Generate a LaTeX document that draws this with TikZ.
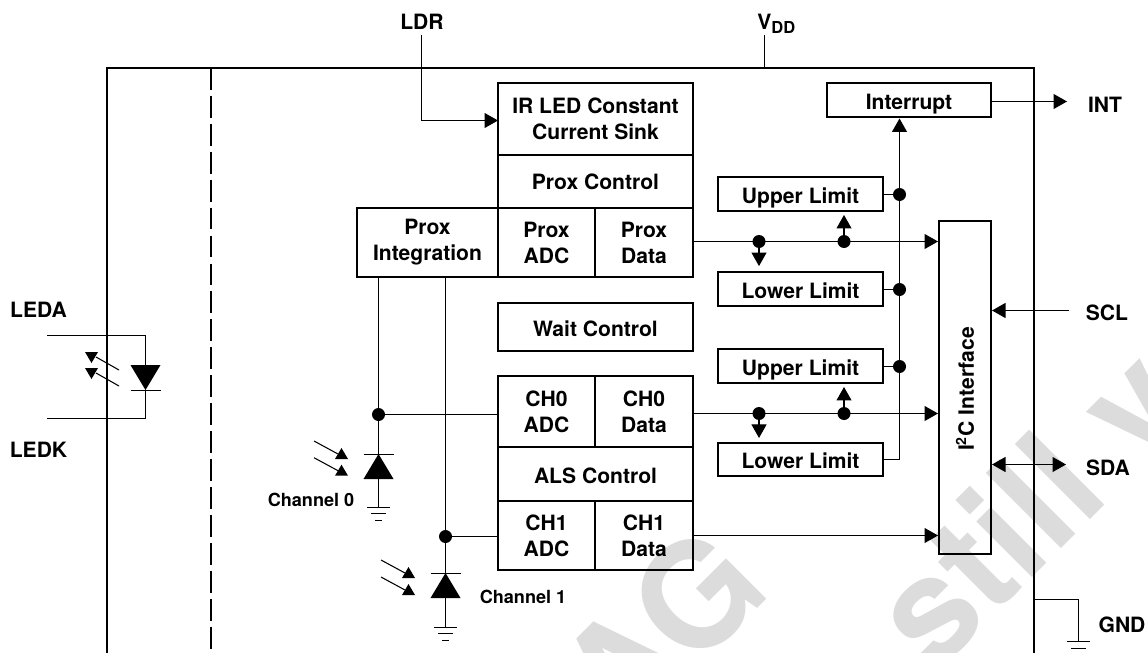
\documentclass[tikz,border=0pt]{standalone}
\usepackage{fontspec}
\setmainfont{TeX Gyre Heros}
\usetikzlibrary{arrows.meta}
\definecolor{wmgray}{HTML}{DCDCDC}
\tikzset{
    blk/.style={draw,line width=1.15pt,inner sep=0pt,align=center,font=\fontsize{12}{14.8}\selectfont\bfseries},
    oneline/.style={text height=10.3pt,text depth=0pt},
    lbl/.style={inner sep=0pt,font=\fontsize{12}{14}\selectfont\bfseries},
    chlbl/.style={inner sep=0pt,font=\fontsize{10.3}{12}\selectfont\bfseries},
    wire/.style={line width=0.6pt},
    sig/.style={line width=0.6pt,-{Triangle[length=0.27cm,width=0.3cm]}},
    sigboth/.style={line width=0.6pt,{Triangle[length=0.27cm,width=0.3cm]}-{Triangle[length=0.27cm,width=0.3cm]}},
    dot/.style={circle,fill,inner sep=0pt,minimum size=0.26cm},
    frm/.style={line width=1.2pt},
    wmark/.style={text=wmgray,inner sep=0pt,font=\fontsize{83}{83}\selectfont\bfseries,rotate=45,anchor=base west}
}
\begin{document}
\begin{tikzpicture}[x=0.02cm,y=-0.02cm]
    \useasboundingbox (0,0) rectangle (1148,652);
    % watermark
    \begin{scope}
    \clip (0,0) rectangle (1148,652);
    \node[wmark] (wmstill) at (934,676) {still v};
    \node[wmark] (wmag) at (622,744) {AG};
    \end{scope}

    % package outline
    \draw[frm] (107,660) -- (107,68) -- (1034,68) -- (1034,660);
    \draw[frm,dash pattern=on 12.4pt off 3.5pt] (211,68) -- (211,660);

    % blocks
    \node[blk,minimum width=3.9cm,minimum height=1.44cm] (sink) at (595.5,119) {IR LED Constant\\Current Sink};
    \node[blk,minimum width=3.9cm,minimum height=1.06cm,text height=8.6pt,text depth=0pt] (proxctl) at (595.5,181.5) {Prox Control};
    \node[blk,minimum width=1.94cm,minimum height=1.38cm] (proxadc) at (546.5,242.5) {Prox\\ADC};
    \node[blk,minimum width=1.96cm,minimum height=1.38cm] (proxdata) at (644,242.5) {Prox\\Data};
    \node[blk,minimum width=2.82cm,minimum height=1.38cm] (proxint) at (427.5,242.5) {Prox\\Integration};
    \node[blk,oneline,minimum width=3.9cm,minimum height=0.96cm] (wait) at (595.5,327) {Wait Control};
    \node[blk,minimum width=1.94cm,minimum height=1.42cm] (chzadc) at (546.5,411.5) {CH0\\ADC};
    \node[blk,minimum width=1.96cm,minimum height=1.42cm] (chzdata) at (644,411.5) {CH0\\Data};
    \node[blk,oneline,minimum width=3.9cm,minimum height=1.08cm] (alsctl) at (595.5,474) {ALS Control};
    \node[blk,minimum width=1.94cm,minimum height=1.38cm] (choadc) at (546.5,535.5) {CH1\\ADC};
    \node[blk,minimum width=1.96cm,minimum height=1.38cm] (chodata) at (644,535.5) {CH1\\Data};
    \node[blk,oneline,minimum width=3.28cm,minimum height=0.68cm] (irq) at (909,100) {Interrupt};
    \node[blk,oneline,minimum width=3.3cm,minimum height=0.68cm] (upa) at (800.5,194) {Upper Limit};
    \node[blk,oneline,minimum width=3.3cm,minimum height=0.68cm] (loa) at (800.5,289) {Lower Limit};
    \node[blk,oneline,minimum width=3.3cm,minimum height=0.68cm] (upb) at (800.5,366) {Upper Limit};
    \node[blk,oneline,minimum width=3.3cm,minimum height=0.66cm] (lob) at (800.5,459.5) {Lower Limit};
    \node[blk,minimum width=1.04cm,minimum height=6.66cm] (iic) at (965,387.5) {};
    \node[lbl,rotate=90] (iiclbl) at (965,389) {I\textsuperscript{2}C Interface};

    % pin labels
    \node[lbl] (ldr) at (422,22) {LDR};
    \node[lbl,anchor=base west] (vdd) at (757,30) {V\raisebox{-1.9pt}{\fontsize{9.4}{9.4}\selectfont DD}};
    \node[lbl] (leda) at (38.5,310) {LEDA};
    \node[lbl] (ledk) at (38.5,450) {LEDK};
    \node[lbl] (int) at (1105,105) {INT};
    \node[lbl] (scl) at (1107,313) {SCL};
    \node[lbl] (sda) at (1108,468) {SDA};
    \node[lbl] (gnd) at (1122,625) {GND};
    \node[chlbl] (chzlbl) at (311,500) {Channel 0};
    \node[chlbl] (cholbl) at (523,597) {Channel 1};

    % junctions
    \node[dot] (pdn) at (759,241.5) {};
    \node[dot] (pup) at (844,241.5) {};
    \node[dot] (cdn) at (759,413.5) {};
    \node[dot] (cup) at (844,413.5) {};
    \node[dot] (ja) at (899.5,194.5) {};
    \node[dot] (jb) at (899.5,289.5) {};
    \node[dot] (jc) at (899.5,366.5) {};
    \node[dot] (dz) at (378.5,414.5) {};
    \node[dot] (dd) at (445.5,536.5) {};

    % free ends
    \coordinate (ldrin) at (421.5,35);
    \coordinate (ldrend) at (498,120.5);
    \coordinate (vddin) at (764.5,35);
    \coordinate (vddtap) at (764.5,68);
    \coordinate (intout) at (1067,101.5);
    \coordinate (sclin) at (1069,310.5);
    \coordinate (sdaout) at (1066,464.5);
    \coordinate (gndtap) at (1034,599.5);
    \coordinate (gndbar) at (1078.5,641);
    \coordinate (bustop) at (899.5,118.5);
    \coordinate (ledain) at (47,335.5);
    \coordinate (ledkin) at (47,418.5);
    \coordinate (ledtop) at (145.5,365);
    \coordinate (ledbot) at (145.5,390);
    \coordinate (cathz) at (378.5,454);
    \coordinate (catho) at (445.5,573);

    % connectors
    \draw[sig] (ldrin) |- (ldrend);
    \draw[wire] (vddin) -- (vddtap);
    \draw[sig] (irq.east |- intout) -- (intout);
    \draw[sig] (sclin) -- (iic.east |- sclin);
    \draw[sigboth] (iic.east |- sdaout) -- (sdaout);
    \draw[wire] (gndtap) -| (gndbar);
    \draw[sig] (proxdata.east |- pdn) -- (iic.west |- pdn);
    \draw[sig] (chzdata.east |- cdn) -- (iic.west |- cdn);
    \draw[sig] (chodata.east) -- (iic.west |- chodata);
    \draw[sig,shorten >=1.7pt] (pup) -- (pup |- upa.south);
    \draw[sig,shorten >=2.8pt] (pdn) -- (pdn |- loa.north);
    \draw[sig,shorten >=1.7pt] (cup) -- (cup |- upb.south);
    \draw[sig,shorten >=2.3pt] (cdn) -- (cdn |- lob.north);
    \draw[sig] (lob.east) -| (bustop);
    \draw[wire] (upa.east |- ja) -- (ja);
    \draw[wire] (loa.east |- jb) -- (jb);
    \draw[wire] (upb.east |- jc) -- (jc);
    \draw[wire] (proxint.south -| dz) -- (dz);
    \draw[wire] (dz) -- (cathz);
    \draw[wire] (dz) -- (chzadc.west |- dz);
    \draw[wire] (proxint.south -| dd) -- (dd);
    \draw[wire] (dd) -- (catho);
    \draw[wire] (dd) -- (choadc.west |- dd);
    \draw[wire] (ledain) -| (ledtop);
    \draw[wire] (ledkin) -| (ledbot);

    % LED
    \fill (130.5,365) -- (160.5,365) -- (145.5,390) -- cycle;
    \draw[wire] (130.5,390.5) -- (160.5,390.5);
    \foreach \y in {370,386} {
        \draw[wire] (119,\y) -- ++(-23,-13);
        \fill (85,\y-18) -- ++(13,0) -- ++(-6.5,11) -- cycle;
    }

    % photodiodes
    \foreach \x/\y/\g in {378.5/454/507,445.5/573/627} {
        \fill (\x,\y) -- (\x+15,\y+25) -- (\x-15,\y+25) -- cycle;
        \draw[wire] (\x-15,\y+.5) -- (\x+15,\y+.5);
        \draw[wire] (\x,\y+25) -- (\x,\g);
        \draw[wire] (\x-11.5,\g+.5) -- (\x+11.5,\g+.5);
        \draw[wire] (\x-7.5,\g+6.5) -- (\x+7.5,\g+6.5);
        \draw[wire] (\x-3.5,\g+13.5) -- (\x+3.5,\g+13.5);
    }
    \foreach \x/\y in {314/441,314/457.7,381/560,381/577} {
        \draw[wire] (\x,\y) -- ++(24,13);
        \fill (\x+21,\y+18) -- ++(13,0) -- ++(-6.5,-11) -- cycle;
    }

    % ground at the pin
    \draw[wire] (1067,641.5) -- (1090,641.5);
    \draw[wire] (1071,648.5) -- (1086,648.5);
\end{tikzpicture}
\end{document}
